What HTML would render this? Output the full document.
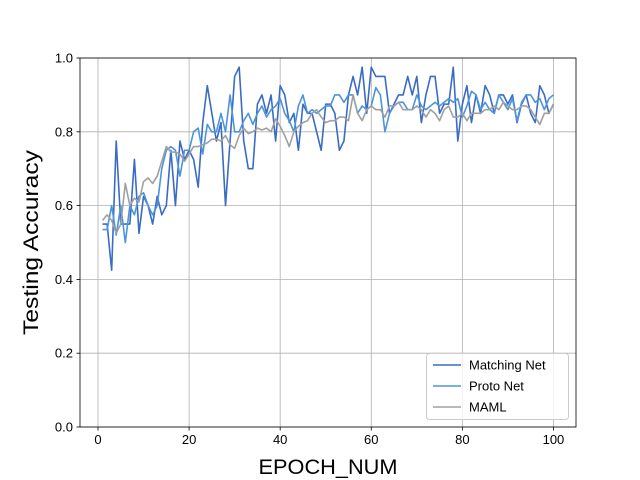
<!DOCTYPE html>
<html><head><meta charset="utf-8"><style>body{margin:0;background:#fff}svg{display:block;font-family:"Liberation Sans","DejaVu Sans",sans-serif}</style></head>
<body>
<svg id="c" width="640" height="480"></svg>
<script>
const epochs = Array.from({length:100},(_,i)=>i+1);
const matchingNet = [0.55,0.55,0.425,0.775,0.55,0.55,0.55,0.725,0.525,0.625,0.6,0.55,0.625,0.575,0.6,0.75,0.6,0.775,0.725,0.75,0.725,0.65,0.825,0.925,0.85,0.775,0.825,0.6,0.775,0.95,0.975,0.775,0.7,0.7,0.875,0.9,0.85,0.9,0.775,0.925,0.9,0.825,0.85,0.75,0.875,0.85,0.85,0.8,0.75,0.875,0.875,0.85,0.75,0.775,0.9,0.95,0.9,0.975,0.85,0.975,0.95,0.95,0.95,0.85,0.875,0.9,0.9,0.95,0.9,0.95,0.825,0.9,0.95,0.95,0.85,0.875,0.875,0.975,0.775,0.875,0.925,0.825,0.9,0.85,0.925,0.9,0.85,0.9,0.9,0.875,0.9,0.825,0.875,0.9,0.85,0.825,0.925,0.9,0.85,0.875];
const protoNet = [0.535,0.535,0.6,0.52,0.6,0.5,0.6,0.575,0.625,0.635,0.6,0.575,0.6,0.7,0.75,0.76,0.75,0.68,0.75,0.75,0.8,0.81,0.74,0.82,0.8,0.8,0.85,0.8,0.9,0.8,0.8,0.83,0.85,0.82,0.85,0.87,0.84,0.86,0.87,0.89,0.85,0.83,0.8,0.87,0.9,0.85,0.86,0.85,0.86,0.87,0.87,0.9,0.9,0.88,0.9,0.9,0.85,0.87,0.86,0.87,0.92,0.9,0.8,0.85,0.87,0.88,0.88,0.86,0.86,0.9,0.87,0.86,0.87,0.88,0.87,0.88,0.89,0.88,0.89,0.84,0.87,0.91,0.9,0.86,0.88,0.86,0.85,0.9,0.88,0.86,0.89,0.83,0.88,0.9,0.9,0.88,0.89,0.86,0.89,0.9];
const maml = [0.56,0.575,0.56,0.525,0.55,0.66,0.6,0.62,0.61,0.665,0.675,0.66,0.68,0.72,0.76,0.745,0.745,0.74,0.72,0.74,0.76,0.76,0.765,0.77,0.78,0.78,0.775,0.79,0.765,0.755,0.79,0.81,0.795,0.8,0.81,0.805,0.81,0.8,0.835,0.815,0.79,0.76,0.8,0.815,0.825,0.83,0.85,0.86,0.84,0.825,0.83,0.83,0.84,0.84,0.83,0.9,0.85,0.83,0.86,0.87,0.86,0.86,0.84,0.87,0.87,0.88,0.86,0.86,0.86,0.87,0.86,0.84,0.86,0.85,0.83,0.86,0.87,0.84,0.84,0.85,0.83,0.85,0.85,0.85,0.86,0.86,0.87,0.86,0.88,0.87,0.86,0.86,0.87,0.87,0.86,0.84,0.82,0.85,0.85,0.875];
const xTicks = [0,20,40,60,80,100];
const yTicks = [0.0,0.2,0.4,0.6,0.8,1.0];
const yTickLabels = ["0.0","0.2","0.4","0.6","0.8","1.0"];

const L=80,R=576,T=58,B=427, xmin=-3.95, xmax=104.95;
const sx=v=>L+(v-xmin)/(xmax-xmin)*(R-L);
const sy=v=>B-v*(B-T);
const svg=document.getElementById('c');
const NS='http://www.w3.org/2000/svg';
function mk(tag,attrs,parent){const e=document.createElementNS(NS,tag);for(const k in attrs)e.setAttribute(k,attrs[k]);(parent||svg).appendChild(e);return e;}

xTicks.forEach(t=>{
  const g=mk('line',{x1:sx(t),x2:sx(t),y1:T,y2:B,stroke:'#b0b0b0','stroke-width':0.8});
  
  
  const k=mk('line',{x1:sx(t),x2:sx(t),y1:B,y2:B+3.5,stroke:'#000','stroke-width':0.8});
  
  
  const tx=mk('text',{x:sx(t),y:B+17,'text-anchor':'middle','font-size':13,fill:'#000'});
  tx.textContent=t;
  
  
});
yTicks.forEach((t,i)=>{
  const g=mk('line',{x1:L,x2:R,y1:sy(t),y2:sy(t),stroke:'#b0b0b0','stroke-width':0.8});
  
  
  const k=mk('line',{x1:L-3.5,x2:L,y1:sy(t),y2:sy(t),stroke:'#000','stroke-width':0.8});
  
  
  const tx=mk('text',{x:L-7,y:sy(t)+4.5,'text-anchor':'end','font-size':13,fill:'#000'});
  tx.textContent=yTickLabels[i];
  
  
});
const series=[[matchingNet,'#3a6cc6','matching-net-line'],[protoNet,'#4d95da','proto-net-line'],[maml,'#a0a0a0','maml-line']];
series.forEach(([d,c,n])=>{
  const p=mk('polyline',{points:d.map((v,i)=>sx(epochs[i])+','+sy(v)).join(' '),fill:'none',stroke:c,'stroke-width':1.6,'stroke-linejoin':'round'});
  
  
});
const fr=mk('rect',{x:L,y:T,width:R-L,height:B-T,fill:'none',stroke:'#000','stroke-width':0.8});



const xl=mk('text',{x:(L+R)/2,y:474,'text-anchor':'middle','font-size':21,fill:'#000',textLength:139,lengthAdjust:'spacingAndGlyphs'});
xl.textContent='EPOCH_NUM';


const yl=mk('text',{x:0,y:0,'text-anchor':'middle','font-size':21,fill:'#000',textLength:185,lengthAdjust:'spacingAndGlyphs',transform:'translate(38,'+((T+B)/2)+') rotate(-90)'});
yl.textContent='Testing Accuracy';



const lg=mk('g',{});


mk('rect',{x:426.5,y:353.5,width:142,height:66,rx:3,fill:'#fff','fill-opacity':0.8,stroke:'#ccc','stroke-width':1},lg);
const names=['Matching Net','Proto Net','MAML'];
names.forEach((nm,i)=>{
  const y=365+i*21;
  const e=mk('g',{},lg);
  
  
  mk('line',{x1:433,x2:461,y1:y,y2:y,stroke:series[i][1],'stroke-width':1.6},e);
  const t=mk('text',{x:469,y:y+4.5,'font-size':13,fill:'#000'},e);
  t.textContent=nm;
});
</script>
</body></html>
